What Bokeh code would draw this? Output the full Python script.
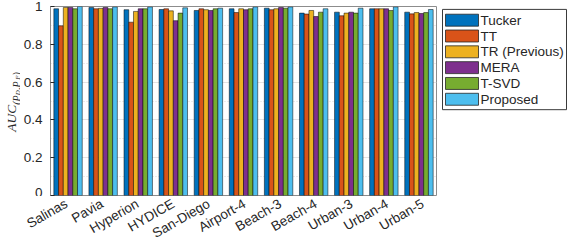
from math import pi
from bokeh.plotting import figure
from bokeh.layouts import row, column
from bokeh.models import ColumnDataSource, Range1d, FixedTicker, FactorRange
from bokeh.core.properties import value
from bokeh.transform import dodge
from bokeh.embed import file_html
from bokeh.resources import INLINE

datasets = ["Salinas", "Pavia", "Hyperion", "HYDICE", "San-Diego", "Airport-4",
            "Beach-3", "Beach-4", "Urban-3", "Urban-4", "Urban-5"]
methods = ["Tucker", "TT", "TR (Previous)", "MERA", "T-SVD", "Proposed"]
tucker = [0.988, 0.995, 0.983, 0.984, 0.979, 0.988, 0.991, 0.965, 0.970, 0.988, 0.970]
tt = [0.898, 0.988, 0.917, 0.988, 0.988, 0.968, 0.983, 0.960, 0.951, 0.988, 0.961]
tr = [0.995, 0.990, 0.974, 0.977, 0.983, 0.988, 0.988, 0.979, 0.965, 0.988, 0.968]
mera = [0.995, 0.995, 0.988, 0.925, 0.979, 0.983, 0.995, 0.947, 0.970, 0.988, 0.963]
tsvd = [0.988, 0.988, 0.988, 0.965, 0.988, 0.988, 0.991, 0.970, 0.965, 0.979, 0.968]
proposed = [1.000, 0.998, 0.998, 0.993, 0.991, 0.998, 0.998, 0.988, 0.991, 0.998, 0.984]
y_ticks = [0, 0.2, 0.4, 0.6, 0.8, 1]
y_tick_labels = ["0", "0.2", "0.4", "0.6", "0.8", "1"]

colors = ["#0072BD", "#D95319", "#EDB120", "#7E2F8E", "#77AC30", "#4DBEEE"]
cols = ["tucker", "tt", "tr", "mera", "tsvd", "proposed"]
series = [tucker, tt, tr, mera, tsvd, proposed]

src = ColumnDataSource(dict(cat=datasets, **{c: s for c, s in zip(cols, series)}))

FONT = "Liberation Sans"
TXT = "#262626"
AX = "#8c8c8c"

# layout geometry (pixels)
W_YL, W_MAIN, W_LG = 20, 418, 131
H_TOP, H_STRIP = 196, 45
LEFT, RIGHT, TOP, BOT = 24, 2, 6, 1
FRAME_L = W_YL + LEFT
FRAME_W = W_MAIN - LEFT - RIGHT

# ---------------- main plot ----------------
p = figure(x_range=FactorRange(factors=datasets), y_range=Range1d(0, 1),
           width=W_MAIN, height=H_TOP, output_backend="svg", toolbar_location=None,
           min_border_left=LEFT, min_border_top=TOP, min_border_right=RIGHT,
           min_border_bottom=BOT)

w = 0.135
for i, (c, color) in enumerate(zip(cols, colors)):
    p.vbar(x=dodge("cat", (i - 2.5) * w, range=p.x_range), top=c, width=w,
           source=src, fill_color=color, line_color="black", line_width=0.5)

p.xaxis.visible = False
p.yaxis.ticker = FixedTicker(ticks=y_ticks,
                             minor_ticks=[(a + b) / 2 for a, b in zip(y_ticks[:-1], y_ticks[1:])])
p.yaxis.major_label_overrides = {float(t): l for t, l in zip(y_ticks, y_tick_labels)}
p.yaxis.major_tick_in = 4
p.yaxis.major_tick_out = 0
p.yaxis.minor_tick_line_color = None
p.yaxis.axis_line_color = AX
p.yaxis.major_tick_line_color = "#262626"
p.yaxis.major_label_text_font = FONT
p.yaxis.major_label_text_font_size = "13.5px"
p.yaxis.major_label_text_color = TXT
p.yaxis.major_label_standoff = 4

p.xgrid.grid_line_color = None
p.ygrid.grid_line_color = "#e3e3e3"
p.ygrid.minor_grid_line_color = "#d9d9d9"
p.ygrid.minor_grid_line_dash = "1 2"
p.outline_line_color = AX
p.background_fill_color = "white"

# ---------------- y-axis label (AUC_{(P_D,P_F)}) ----------------
yl = figure(width=W_YL, height=H_TOP, x_range=Range1d(0, W_YL), y_range=Range1d(0, H_TOP),
            output_backend="svg", toolbar_location=None, x_axis_type=None, y_axis_type=None,
            min_border=0, outline_line_color=None)
yl.grid.visible = False
pieces = [("AUC", 0.0, "13.5px", 11.0),
          ("(P", 28.0, "10px", 16.0),
          ("D", 38.0, "7px", 17.5),
          (",P", 43.5, "10px", 16.0),
          ("F", 54.0, "7px", 17.5),
          (")", 58.5, "10px", 16.0)]
y_start = H_TOP - 130
for txt, s, fs, xb in pieces:
    yl.text(x=[xb], y=[y_start + s], text=[txt], angle=pi / 2, text_align="left",
            text_baseline="alphabetic", text_font=value("Liberation Serif"),
            text_font_style="italic", text_font_size=value(fs), text_color=TXT)

# ---------------- legend panel ----------------
lg = figure(width=W_LG, height=H_TOP, x_range=Range1d(0, W_LG), y_range=Range1d(0, H_TOP),
            output_backend="svg", toolbar_location=None, x_axis_type=None, y_axis_type=None,
            min_border=0, outline_line_color=None)
lg.grid.visible = False
lg.quad(left=[4], right=[128], top=[H_TOP - 3], bottom=[H_TOP - 107],
        fill_color="white", line_color="#3a3a3a", line_width=1)
n = len(methods)
pitch, sw_h = 16.4, 12.4
sw_top = [H_TOP - 8 - pitch * i for i in range(n)]
lg.quad(left=[7] * n, right=[40] * n, top=sw_top, bottom=[t - sw_h for t in sw_top],
        fill_color=colors, line_color="#262626", line_width=0.8)
lg.text(x=[42] * n, y=[t - sw_h / 2 for t in sw_top], text=methods,
        text_align="left", text_baseline="middle", text_font=value(FONT),
        text_font_size=value("13.5px"), text_color=TXT)

# ---------------- x tick labels strip ----------------
px_per_cat = FRAME_W / len(datasets)
W_ALL = W_YL + W_MAIN + W_LG
strip = figure(width=W_ALL, height=H_STRIP,
               x_range=Range1d(-FRAME_L / px_per_cat, (W_ALL - FRAME_L) / px_per_cat),
               y_range=Range1d(0, H_STRIP), output_backend="svg", toolbar_location=None,
               x_axis_type=None, y_axis_type=None, min_border=0, outline_line_color=None)
strip.grid.visible = False
strip.text(x=[i + 0.5 for i in range(len(datasets))], y=[H_STRIP - 6] * len(datasets),
           text=datasets, angle=pi / 6, x_offset=4, text_align="right",
           text_baseline="middle", text_font=value(FONT), text_font_size=value("13.5px"),
           text_color=TXT)

layout = column(row(yl, p, lg, spacing=0), strip, spacing=0)
open("out.html", "w").write(file_html(layout, INLINE))
